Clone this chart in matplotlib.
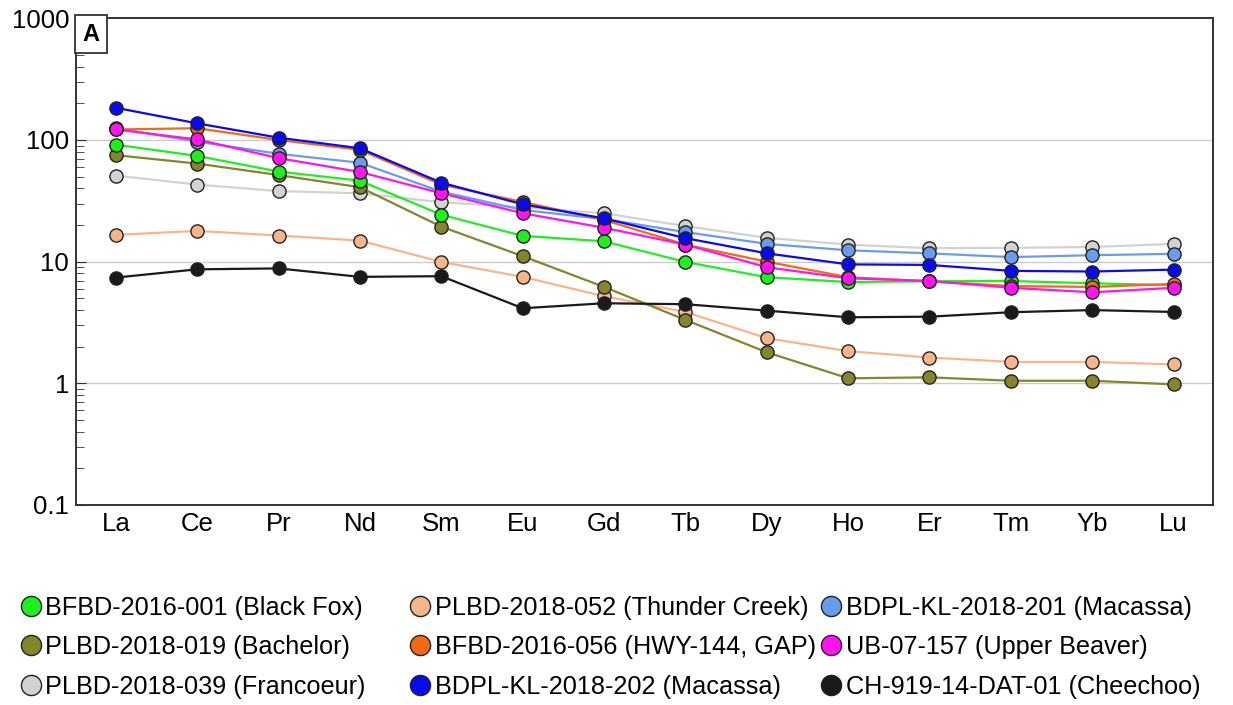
import matplotlib.pyplot as plt
from matplotlib.lines import Line2D

plt.rcParams['font.family'] = ['Liberation Sans', 'DejaVu Sans']

elements = ['La', 'Ce', 'Pr', 'Nd', 'Sm', 'Eu', 'Gd', 'Tb', 'Dy', 'Ho', 'Er', 'Tm', 'Yb', 'Lu']

# chondrite-normalised REE values per sample
francoeur = [51, 43, 38, 36.5, 30.8, 28, 25, 19.6, 15.7, 13.8, 12.9, 13.0, 13.2, 14.0]
thunder_creek = [16.6, 17.9, 16.4, 14.9, 9.95, 7.5, 5.2, 3.86, 2.35, 1.84, 1.63, 1.5, 1.5, 1.43]
bachelor = [75, 64, 51.5, 40.9, 19.4, 11.1, 6.2, 3.32, 1.8, 1.1, 1.12, 1.05, 1.05, 0.98]
black_fox = [91.5, 74, 55, 46.3, 24.3, 16.3, 14.7, 9.95, 7.45, 6.8, 6.9, 6.94, 6.64, 6.4]
macassa_201 = [125, 97, 77, 65, 37.6, 26.6, 22.4, 17.5, 14.0, 12.4, 11.7, 10.9, 11.3, 11.6]
hwy144 = [122, 125, 100, 83, 43, 31, 22, 13.8, 10.0, 7.45, 6.9, 6.3, 6.2, 6.56]
upper_beaver = [122, 101, 71, 54.6, 36.5, 25, 19, 13.8, 9.0, 7.3, 6.94, 6.1, 5.6, 6.1]
macassa_202 = [184, 137, 104.5, 85.5, 44.6, 29.6, 22.7, 15.6, 11.7, 9.5, 9.4, 8.4, 8.3, 8.6]
cheechoo = [7.4, 8.65, 8.8, 7.5, 7.6, 4.14, 4.55, 4.47, 3.96, 3.49, 3.53, 3.84, 4.0, 3.86]

series = [
    ('PLBD-2018-039 (Francoeur)', francoeur, '#d2d2d2'),
    ('PLBD-2018-052 (Thunder Creek)', thunder_creek, '#f7b68a'),
    ('PLBD-2018-019 (Bachelor)', bachelor, '#85862b'),
    ('BFBD-2016-001 (Black Fox)', black_fox, '#1ef01e'),
    ('BDPL-KL-2018-201 (Macassa)', macassa_201, '#6a9cec'),
    ('BFBD-2016-056 (HWY-144, GAP)', hwy144, '#f26a12'),
    ('UB-07-157 (Upper Beaver)', upper_beaver, '#ff14f0'),
    ('BDPL-KL-2018-202 (Macassa)', macassa_202, '#0a0af0'),
    ('CH-919-14-DAT-01 (Cheechoo)', cheechoo, '#1a1a1a'),
]
colors = {name: c for name, _, c in series}

fig = plt.figure(figsize=(12.33, 7.05), dpi=100)
ax = fig.add_axes([0.0616, 0.2837, 0.9219, 0.6903])

x = range(len(elements))
for name, vals, c in series:
    ax.plot(x, vals, color=c, lw=1.6, marker='o', ms=9.5,
            markerfacecolor=c, markeredgecolor='#222222', markeredgewidth=1.0)

ax.set_yscale('log')
ax.set_ylim(0.1, 1000)
ax.set_xlim(-0.49, 13.48)
ax.set_xticks(list(x))
ax.set_xticklabels(elements, fontsize=18.5)
ax.set_yticks([0.1, 1, 10, 100, 1000])
ax.set_yticklabels(['0.1', '1', '10', '100', '1000'], fontsize=18.5)
ax.tick_params(axis='x', length=0, pad=5)
ax.tick_params(axis='y', which='major', direction='in', length=7, color='#333333')
ax.tick_params(axis='y', which='minor', direction='in', length=6, color='#333333')
ax.tick_params(axis='y', pad=5)
for y in [1, 10, 100]:
    ax.axhline(y, color='#cccccc', lw=1.0, zorder=0)
for s in ax.spines.values():
    s.set_color('#333333')
    s.set_linewidth(1.4)

ax.text(0.006, 0.991, 'A', transform=ax.transAxes, fontsize=17, fontweight='bold',
        va='top', ha='left', zorder=10,
        bbox=dict(boxstyle='square,pad=0.32', facecolor='white', edgecolor='#333333', lw=1.3))

# legend, three columns placed by hand
columns = [
    (['BFBD-2016-001 (Black Fox)', 'PLBD-2018-019 (Bachelor)', 'PLBD-2018-039 (Francoeur)'], 0.007),
    (['PLBD-2018-052 (Thunder Creek)', 'BFBD-2016-056 (HWY-144, GAP)', 'BDPL-KL-2018-202 (Macassa)'], 0.323),
    (['BDPL-KL-2018-201 (Macassa)', 'UB-07-157 (Upper Beaver)', 'CH-919-14-DAT-01 (Cheechoo)'], 0.656),
]
for names, xpos in columns:
    handles = [Line2D([], [], ls='none', marker='o', ms=14.5, markerfacecolor=colors[n],
                      markeredgecolor='#222222', markeredgewidth=1.0) for n in names]
    fig.legend(handles, names, loc='upper left', bbox_to_anchor=(xpos, 0.173),
               frameon=False, fontsize=18.2, handlelength=0.75, handletextpad=0.2,
               labelspacing=0.62, borderpad=0)

fig.savefig('out.png', dpi=100)
